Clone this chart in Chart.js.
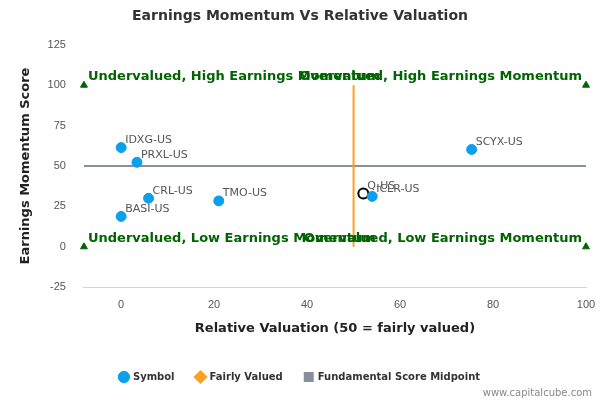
<!DOCTYPE html>
<html>
<head>
<meta charset="utf-8">
<script src="https://cdn.jsdelivr.net/npm/chart.js@4/dist/chart.umd.min.js"></script>
<style>
  html, body { margin: 0; padding: 0; background: #fff; }
  #wrap { width: 600px; height: 400px; position: relative; }
</style>
</head>
<body>
<div id="wrap"><canvas id="c"></canvas></div>
<script>
var symbols = ['IDXG-US', 'PRXL-US', 'CRL-US', 'BASI-US', 'TMO-US', 'ICLR-US', 'SCYX-US'];
var valuation = [0, 3.4, 5.9, 0, 21, 54, 75.4];
var momentum = [61.4, 52.3, 30, 18.8, 28.4, 31.2, 60.2];
var subject = { name: 'Q-US', x: 52.1, y: 33 };
var cornerX = [-8, 100, -8, 100];
var cornerY = [100, 100, 0, 0];
var quadrantLabels = [
    ['Undervalued, High Earnings Momentum', -8, 100, 'left'],
    ['Overvalued, High Earnings Momentum', 100, 100, 'right'],
    ['Undervalued, Low Earnings Momentum', -8, 0, 'left'],
    ['Overvalued, Low Earnings Momentum', 100, 0, 'right']
];

var labelPlugin = {
    id: 'labels',
    afterDatasetsDraw: function(chart) {
        var ctx = chart.ctx, xs = chart.scales.x, ys = chart.scales.y;
        ctx.save();
        ctx.font = '11px "DejaVu Sans", sans-serif';
        ctx.fillStyle = '#555';
        ctx.textAlign = 'left';
        ctx.textBaseline = 'bottom';
        symbols.forEach(function(s, i) {
            ctx.fillText(s, xs.getPixelForValue(valuation[i]) + 4, ys.getPixelForValue(momentum[i]) - 2);
        });
        ctx.fillText(subject.name, xs.getPixelForValue(subject.x) + 4, ys.getPixelForValue(subject.y) - 2);
        ctx.font = 'bold 13px "DejaVu Sans", sans-serif';
        ctx.fillStyle = '#006400';
        quadrantLabels.forEach(function(q) {
            ctx.textAlign = q[3];
            var px = xs.getPixelForValue(q[1]) + (q[3] === 'left' ? 4 : -4);
            ctx.fillText(q[0], px, ys.getPixelForValue(q[2]) - 2);
        });
        ctx.font = '10px "DejaVu Sans", sans-serif';
        ctx.fillStyle = '#888';
        ctx.textAlign = 'right';
        ctx.textBaseline = 'alphabetic';
        ctx.fillText('www.capitalcube.com', 592, 396);
        ctx.restore();
    }
};

new Chart(document.getElementById('c'), {
    type: 'scatter',
    data: {
        datasets: [
            {
                label: 'Symbol',
                data: valuation.map(function(v, i) { return { x: v, y: momentum[i] }; }),
                backgroundColor: '#0aa0ee', borderColor: '#0aa0ee',
                pointRadius: 5, pointHoverRadius: 5
            },
            {
                label: 'Q',
                data: [{ x: subject.x, y: subject.y }],
                backgroundColor: '#fff', borderColor: '#000', borderWidth: 2,
                pointRadius: 5
            },
            {
                label: 'Fairly Valued',
                data: [{ x: 50, y: 0 }, { x: 50, y: 100 }],
                showLine: true, borderColor: '#ffa020', backgroundColor: '#ffa020',
                borderWidth: 2, pointRadius: 0, pointStyle: 'rectRot'
            },
            {
                label: 'Fundamental Score Midpoint',
                data: [{ x: -8, y: 50 }, { x: 100, y: 50 }],
                showLine: true, borderColor: '#8890a0', backgroundColor: '#8890a0',
                borderWidth: 2, pointRadius: 0, pointStyle: 'rect'
            },
            {
                label: 'corners',
                data: cornerX.map(function(v, i) { return { x: v, y: cornerY[i] }; }),
                pointStyle: 'triangle', backgroundColor: '#006400', borderColor: '#006400',
                pointRadius: 4, clip: false
            }
        ]
    },
    options: {
        responsive: true,
        maintainAspectRatio: false,
        animation: false,
        layout: { padding: { left: 14, right: 14, top: 0, bottom: 8 } },
        plugins: {
            title: {
                display: true, text: 'Earnings Momentum Vs Relative Valuation',
                color: '#333', font: { size: 14, weight: 'bold', family: '"DejaVu Sans", sans-serif' },
                padding: { top: 8, bottom: 20 }
            },
            legend: {
                position: 'bottom',
                labels: {
                    usePointStyle: true, boxWidth: 8, boxHeight: 8,
                    color: '#333', font: { size: 10, weight: 'bold', family: '"DejaVu Sans", sans-serif' },
                    padding: 22,
                    filter: function(item) { return item.text !== 'Q' && item.text !== 'corners'; }
                }
            },
            tooltip: { enabled: false }
        },
        scales: {
            x: {
                type: 'linear', min: -8, max: 100,
                afterBuildTicks: function(s) { s.ticks = [0, 20, 40, 60, 80, 100].map(function(v) { return { value: v }; }); },
                grid: { display: false },
                border: { color: '#ccd6eb' },
                ticks: { color: '#555', font: { size: 11 } },
                title: { display: true, text: 'Relative Valuation (50 = fairly valued)', color: '#222',
                    font: { size: 13, weight: 'bold', family: '"DejaVu Sans", sans-serif' },
                    padding: { top: 6, bottom: 14 } }
            },
            y: {
                min: -25, max: 125,
                ticks: { stepSize: 25, color: '#555', font: { size: 11 }, padding: 10 },
                grid: { display: false },
                border: { display: false },
                title: { display: true, text: 'Earnings Momentum Score', color: '#222',
                    font: { size: 13, weight: 'bold', family: '"DejaVu Sans", sans-serif' } }
            }
        }
    },
    plugins: [labelPlugin]
});
</script>
</body>
</html>
